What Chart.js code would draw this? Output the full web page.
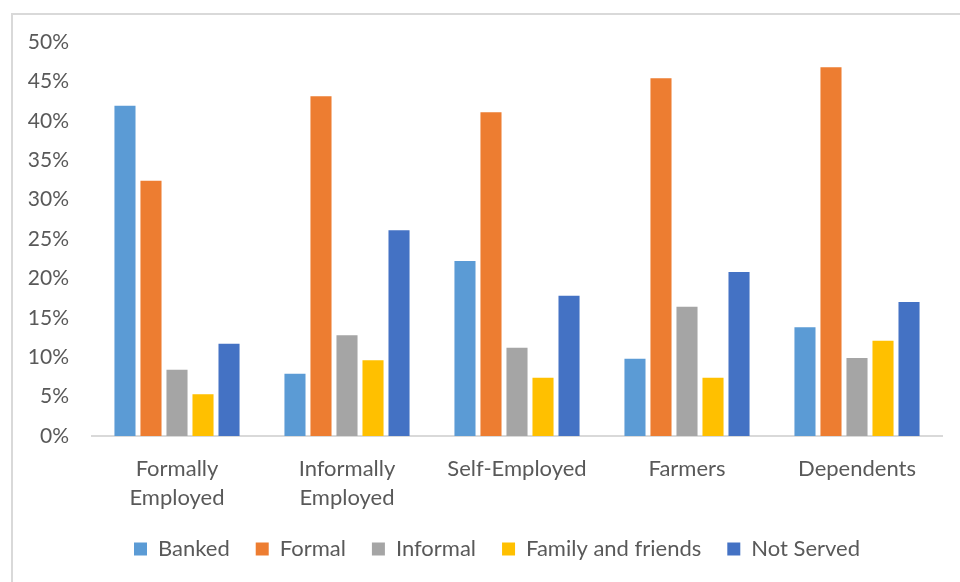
<!DOCTYPE html>
<html>
<head>
<meta charset="utf-8">
<script src="https://cdn.jsdelivr.net/npm/chart.js@4/dist/chart.umd.min.js"></script>
<style>
  html, body { margin: 0; padding: 0; background: #ffffff; }
  #wrap { position: relative; width: 960px; height: 582px; overflow: hidden; }
  #frame {
    position: absolute; left: 11px; top: 13px; width: 1000px; height: 600px;
    border-top: 2px solid #d9d9d9; border-left: 2px solid #d9d9d9; box-sizing: border-box;
  }
  canvas { position: absolute; left: 0; top: 0; }
</style>
</head>
<body>
<div id="wrap">
  <div id="frame"></div>
  <canvas id="chart" width="960" height="582"></canvas>
</div>
<script>
const categories = [
  ['Formally', 'Employed'],
  ['Informally', 'Employed'],
  'Self-Employed',
  'Farmers',
  'Dependents'
];

const banked        = [41.9, 7.9, 22.2, 9.8, 13.8];
const formal        = [32.4, 43.1, 41.1, 45.4, 46.8];
const informal      = [8.4, 12.8, 11.2, 16.4, 9.9];
const familyFriends = [5.3, 9.6, 7.4, 7.4, 12.1];
const notServed     = [11.7, 26.1, 17.8, 20.8, 17.0];

const seriesNames  = ['Banked', 'Formal', 'Informal', 'Family and friends', 'Not Served'];
const seriesColors = ['#5b9bd5', '#ed7d31', '#a5a5a5', '#ffc000', '#4472c4'];
const seriesData   = [banked, formal, informal, familyFriends, notServed];

const yTicks = [0, 5, 10, 15, 20, 25, 30, 35, 40, 45, 50];

Chart.defaults.font.family = "Lato, 'Open Sans', sans-serif";
Chart.defaults.color = '#595959';

// nudge the legend row a little to the right of the plot centre
const legendShift = {
  id: 'legendShift',
  afterLayout(chart) {
    if (chart.legend) {
      chart.legend.left += 16;
      chart.legend.right += 16;
    }
  }
};

const datasets = seriesNames.map((name, i) => ({
  label: name,
  data: seriesData[i],
  backgroundColor: seriesColors[i],
  borderColor: '#ffffff',
  borderWidth: 0,
  barPercentage: 0.81,
  categoryPercentage: 0.765
}));

new Chart(document.getElementById('chart'), {
  type: 'bar',
  data: { labels: categories, datasets: datasets },
  plugins: [legendShift],
  options: {
    responsive: false,
    animation: false,
    layout: { padding: { left: 20, right: 18, top: 42, bottom: 12 } },
    plugins: {
      tooltip: { enabled: false },
      legend: {
        position: 'bottom',
        labels: {
          boxWidth: 13,
          boxHeight: 13,
          padding: 26,
          font: { size: 22 },
          color: '#595959'
        }
      }
    },
    scales: {
      x: {
        grid: { display: false, drawTicks: false },
        border: { display: true, color: '#d9d9d9', width: 2 },
        ticks: {
          font: { size: 22, lineHeight: 1.32 },
          color: '#595959',
          padding: 18,
          maxRotation: 0,
          autoSkip: false
        },
        afterFit: (axis) => { axis.height = 76; }
      },
      y: {
        min: 0,
        max: 50,
        grid: { display: false, drawTicks: false },
        border: { display: false },
        afterBuildTicks: (axis) => { axis.ticks = yTicks.map(v => ({ value: v })); },
        ticks: {
          font: { size: 21 },
          color: '#595959',
          padding: 23,
          callback: (v) => v + '%'
        },
        afterFit: (axis) => { axis.width = 72; }
      }
    }
  }
});
</script>
</body>
</html>
